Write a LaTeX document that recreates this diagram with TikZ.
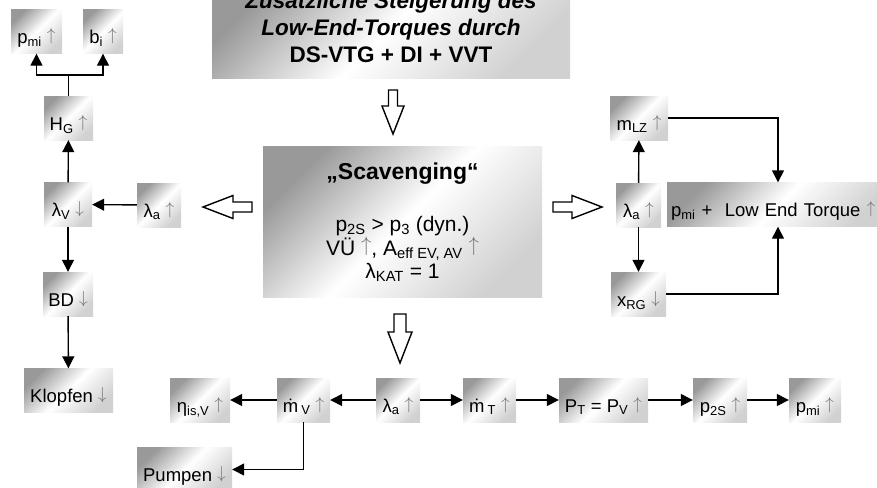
\documentclass[tikz,border=0pt]{standalone}
\usepackage{fontspec}
\setmainfont{Liberation Sans}
\usetikzlibrary{arrows.meta}
\newcommand\arup{\textcolor{black!55}{\raisebox{0.15em}{$\uparrow$}}}
\newcommand\ardown{\textcolor{black!55}{\raisebox{0.15em}{$\downarrow$}}}
\begin{document}
\begin{tikzpicture}[x=1pt, y=-1pt,
    shadebox/.style={top color=black!40, bottom color=black!18, middle color=white, shading angle=45, inner sep=1pt},
    box/.style={shadebox, minimum height=44pt, text height=24pt, text depth=0pt, font=\fontsize{18.5}{20}\selectfont},
    panel/.style={shadebox, align=center},
    arr/.style={-{Triangle[length=12pt,width=12pt]}, line width=1.4pt},
    link/.style={line width=1.4pt},
    hollow/.style={draw, line width=1.4pt, fill=white, line join=miter}]
    \useasboundingbox (0,0) rectangle (877,487);
    % big boxes
    \node[panel, minimum width=358pt, minimum height=102pt, font=\bfseries\fontsize{22.5}{27}\selectfont] (goal) at (391,27) {{\itshape Zusätzliche Steigerung des}\\{\itshape Low-End-Torques durch}\\DS-VTG + DI + VVT};
    \node[panel, minimum width=279pt, minimum height=151pt, font=\fontsize{21}{23.5}\selectfont] (scav) at (402.5,222) {{\bfseries\fontsize{23}{24}\selectfont „Scavenging“}\\[29pt]p\textsubscript{2S} > p\textsubscript{3} (dyn.)\\VÜ \arup, A\textsubscript{eff EV, AV} \arup\\λ\textsubscript{KAT} = 1};
    % left branch
    \node[box, minimum width=51pt] (pmitop) at (36.5,31.5) {p\textsubscript{mi} \arup};
    \node[box, minimum width=40pt] (bi) at (103,31.5) {b\textsubscript{i} \arup};
    \node[box, minimum width=49pt] (hg) at (68.5,118) {H\textsubscript{G} \arup};
    \node[box, minimum width=48pt] (lamv) at (68,204.5) {λ\textsubscript{V} \ardown};
    \node[box, minimum width=44pt] (lamaleft) at (159,205) {λ\textsubscript{a} \arup};
    \node[box, minimum width=50pt] (bd) at (68,294) {BD \ardown};
    \node[box, minimum width=89pt] (klopfen) at (68.5,390.5) {Klopfen \ardown};
    % bottom branch
    \node[box, minimum width=60pt] (eta) at (200,400) {η\textsubscript{is,V} \arup};
    \node[box, minimum width=53pt] (mv) at (303.5,400) {\.{m}\,\textsubscript{V} \arup};
    \node[box, minimum width=44pt] (lamabot) at (398,400) {λ\textsubscript{a} \arup};
    \node[box, minimum width=53pt] (mt) at (489.5,400) {\.{m}\,\textsubscript{T} \arup};
    \node[box, minimum width=89pt] (pt) at (603.5,400) {P\textsubscript{T} = P\textsubscript{V} \arup};
    \node[box, minimum width=54pt] (p2s) at (720,400) {p\textsubscript{2S} \arup};
    \node[box, minimum width=52pt] (pmibot) at (815,400) {p\textsubscript{mi} \arup};
    \node[box, minimum width=95pt] (pumpen) at (184.5,469.5) {Pumpen \ardown};
    % right branch
    \node[box, minimum width=58pt] (mlz) at (639,118) {m\textsubscript{LZ} \arup};
    \node[box, minimum width=45pt] (lamaright) at (638.5,205) {λ\textsubscript{a} \arup};
    \node[box, minimum width=55pt] (xrg) at (638.5,294) {x\textsubscript{RG} \ardown};
    \node[box, minimum width=222pt, text width=214pt, align=left] (torque) at (778,204.5) {p\textsubscript{mi} +\ \ Low End Torque \arup};
    % connectors
    \coordinate (split) at (68.5,75);
    \draw[link] (hg) -- (split);
    \draw[arr] (split) -| (pmitop);
    \draw[arr] (split) -| (bi);
    \draw[arr] (lamv) -- (hg);
    \draw[arr] (lamaleft) -- (lamv);
    \draw[arr] (lamv) -- (bd);
    \draw[arr] (bd) -- (klopfen);
    \draw[arr] (lamabot) -- (mv);
    \draw[arr] (mv) -- (eta);
    \draw[arr] (mv) |- (pumpen);
    \draw[arr] (lamabot) -- (mt);
    \draw[arr] (mt) -- (pt);
    \draw[arr] (pt) -- (p2s);
    \draw[arr] (p2s) -- (pmibot);
    \draw[arr] (lamaright) -- (mlz);
    \draw[arr] (lamaright) -- (xrg);
    \draw[arr] (mlz) -| (torque);
    \draw[arr] (xrg) -| (torque);
    % hollow block arrows
    \draw[hollow] (388.5,90) -- (397.5,90) -- (397.5,106) -- (404,106) -- (393,134) -- (382,106) -- (388.5,106) -- cycle;
    \draw[hollow] (252,202) -- (252,212) -- (233,212) -- (233,218.5) -- (203,207) -- (233,195.5) -- (233,202) -- cycle;
    \draw[hollow] (553,202) -- (553,212) -- (572,212) -- (572,218.5) -- (602,207) -- (572,195.5) -- (572,202) -- cycle;
    \draw[hollow] (394,314) -- (406,314) -- (406,332) -- (412,332) -- (400,363) -- (388,332) -- (394,332) -- cycle;
\end{tikzpicture}
\end{document}
